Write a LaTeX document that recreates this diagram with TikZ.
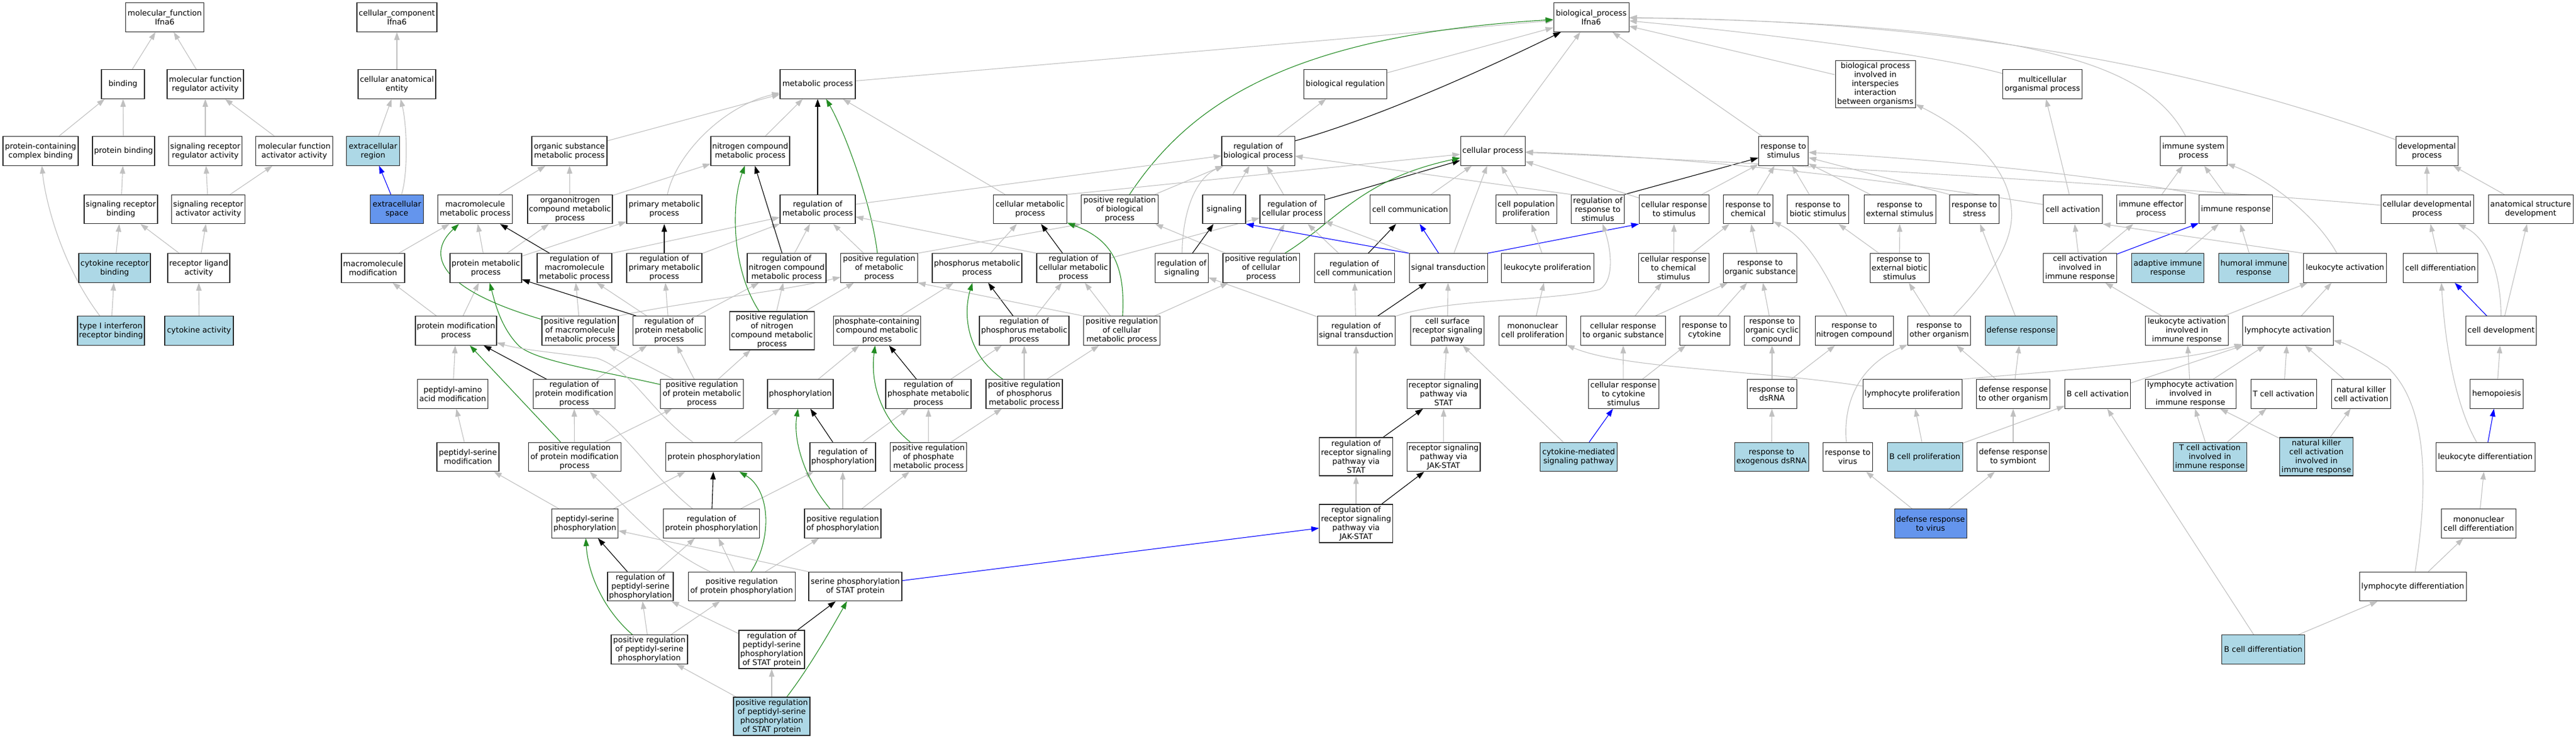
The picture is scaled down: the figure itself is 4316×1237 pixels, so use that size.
\documentclass[tikz,border=0pt]{standalone}
\usepackage{fontspec}
\setmainfont{DejaVu Sans}
\usetikzlibrary{arrows.meta}
\definecolor{eg}{RGB}{192,192,192}
\definecolor{fgreen}{RGB}{34,139,34}
\definecolor{lbl}{RGB}{173,216,230}
\definecolor{cfb}{RGB}{100,149,237}
\definecolor{bordc}{RGB}{40,40,40}
\pgfdeclarelayer{bg}
\pgfsetlayers{bg,main}
\tikzset{
 gonode/.style={draw=bordc, line width=1.05pt, fill=white, rectangle, align=center, minimum height=48.5pt, inner sep=1.5pt, font=\fontsize{13}{15}\selectfont},
 lbfill/.style={fill=lbl},
 cbfill/.style={fill=cfb},
 h4/.style={minimum height=64pt},
 h5/.style={minimum height=79pt},
 eisa/.style={draw=eg, line width=1.1pt, -{Triangle[length=13pt,width=9pt]}},
 ereg/.style={draw=black, line width=1.1pt, -{Triangle[length=13pt,width=9pt]}},
 epos/.style={draw=fgreen, line width=1.1pt, -{Triangle[length=13pt,width=9pt]}},
 epart/.style={draw=blue, line width=1.1pt, -{Triangle[length=13pt,width=9pt]}},
}
\begin{document}
\begin{tikzpicture}[x=1pt,y=-1pt]
\useasboundingbox (0,0) rectangle (4316,1237);
% ---------- R1
\node[gonode,minimum width=131pt] (mf) at (276,29) {molecular\_function\\Ifna6};
\node[gonode,minimum width=134pt] (cc) at (665,29) {cellular\_component\\Ifna6};
\node[gonode,minimum width=126pt] (bp) at (2666,29) {biological\_process\\Ifna6};
% ---------- R2
\node[gonode,minimum width=72pt] (bind) at (206,141) {binding};
\node[gonode,minimum width=128pt] (mfra) at (344,141) {molecular function\\regulator activity};
\node[gonode,minimum width=130pt] (cae) at (665,141) {cellular anatomical\\entity};
\node[gonode,minimum width=126pt] (mp) at (1370,141) {metabolic process};
\node[gonode,minimum width=139pt] (breg) at (2254,141) {biological regulation};
\node[gonode,h5,minimum width=134pt] (bpii) at (3142,141) {biological process\\involved in\\interspecies\\interaction\\between organisms};
\node[gonode,minimum width=133pt] (mop) at (3422,141) {multicellular\\organismal process};
% ---------- R3
\node[gonode,minimum width=126pt] (pcb) at (68,253) {protein-containing\\complex binding};
\node[gonode,minimum width=104pt] (pb) at (207,253) {protein binding};
\node[gonode,minimum width=123pt] (srra) at (344,253) {signaling receptor\\regulator activity};
\node[gonode,minimum width=129pt] (mfaa) at (493,253) {molecular function\\activator activity};
\node[gonode,lbfill,minimum width=89pt] (er) at (625,253) {extracellular\\region};
\node[gonode,minimum width=126pt] (osmp) at (954,253) {organic substance\\metabolic process};
\node[gonode,minimum width=132pt] (ncmp) at (1257,253) {nitrogen compound\\metabolic process};
\node[gonode,minimum width=122pt] (rbp) at (2108,253) {regulation of\\biological process};
\node[gonode,minimum width=108pt] (cp) at (2501,253) {cellular process};
\node[gonode,minimum width=83pt] (rts) at (2988,253) {response to\\stimulus};
\node[gonode,minimum width=112pt] (isp) at (3675,253) {immune system\\process};
\node[gonode,minimum width=104pt] (dp) at (4066,253) {developmental\\process};
% ---------- R4
\node[gonode,minimum width=123pt] (srb) at (202.5,350.5) {signaling receptor\\binding};
\node[gonode,minimum width=123pt] (sraa) at (349,350.5) {signaling receptor\\activator activity};
\node[gonode,cbfill,minimum width=89pt] (es) at (665,350.5) {extracellular\\space};
\node[gonode,minimum width=125pt] (mmp) at (796,350.5) {macromolecule\\metabolic process};
\node[gonode,minimum width=142pt] (oncmp) at (955,350.5) {organonitrogen\\compound metabolic\\process};
\node[gonode,minimum width=126pt] (pmp) at (1113,350.5) {primary metabolic\\process};
\node[gonode,minimum width=126pt] (rmp) at (1370,350.5) {regulation of\\metabolic process};
\node[gonode,minimum width=123pt] (cmp) at (1726,350.5) {cellular metabolic\\process};
\node[gonode,minimum width=128.5pt] (prbp) at (1876,350.5) {positive regulation\\of biological\\process};
\node[gonode,minimum width=72pt] (sig) at (2051,350.5) {signaling};
\node[gonode,minimum width=108pt] (rcp) at (2165,350.5) {regulation of\\cellular process};
\node[gonode,minimum width=134pt] (ccom) at (2362.5,350.5) {cell communication};
\node[gonode,minimum width=102pt] (cpp) at (2557,350.5) {cell population\\proliferation};
\node[gonode,minimum width=89pt] (rrs) at (2677,350.5) {regulation of\\response to\\stimulus};
\node[gonode,minimum width=117pt] (crs) at (2805,350.5) {cellular response\\to stimulus};
\node[gonode,minimum width=83pt] (rtc) at (2929,350.5) {response to\\chemical};
\node[gonode,minimum width=102.5pt] (rbs) at (3046,350.5) {response to\\biotic stimulus};
\node[gonode,minimum width=120pt] (res) at (3183,350.5) {response to\\external stimulus};
\node[gonode,minimum width=83pt] (rst) at (3308,350.5) {response to\\stress};
\node[gonode,minimum width=99pt] (cact) at (3473,350.5) {cell activation};
\node[gonode,minimum width=114.5pt] (iep) at (3604,350.5) {immune effector\\process};
\node[gonode,minimum width=123pt] (ir) at (3746,350.5) {immune response};
\node[gonode,minimum width=155pt] (cdp) at (4066.5,350.5) {cellular developmental\\process};
\node[gonode,minimum width=142pt] (asd) at (4240,350.5) {anatomical structure\\development};
% ---------- R5
\node[gonode,lbfill,minimum width=120pt] (crb) at (192,449) {cytokine receptor\\binding};
\node[gonode,minimum width=104pt] (rla) at (333,449) {receptor ligand\\activity};
\node[gonode,minimum width=106pt] (mm) at (625,449) {macromolecule\\modification};
\node[gonode,minimum width=120pt] (prmp) at (814,449) {protein metabolic\\process};
\node[gonode,minimum width=125pt] (rmmp) at (962.5,449) {regulation of\\macromolecule\\metabolic process};
\node[gonode,minimum width=126pt] (rpmp) at (1113,449) {regulation of\\primary metabolic\\process};
\node[gonode,minimum width=132pt] (rncmp) at (1318,449) {regulation of\\nitrogen compound\\metabolic process};
\node[gonode,minimum width=128.5pt] (prmp2) at (1473,449) {positive regulation\\of metabolic\\process};
\node[gonode,minimum width=150pt] (phmp) at (1637,449) {phosphorus metabolic\\process};
\node[gonode,minimum width=123pt] (rcmp) at (1798.5,449) {regulation of\\cellular metabolic\\process};
\node[gonode,minimum width=88.5pt] (rsig) at (1980,449) {regulation of\\signaling};
\node[gonode,minimum width=128pt] (prcp) at (2113,449) {positive regulation\\of cellular\\process};
\node[gonode,minimum width=134pt] (rcc) at (2269,449) {regulation of\\cell communication};
\node[gonode,minimum width=131pt] (st) at (2426.5,449) {signal transduction};
\node[gonode,minimum width=155pt] (lp) at (2592.6,449) {leukocyte proliferation};
\node[gonode,minimum width=118pt] (crcs) at (2804,449) {cellular response\\to chemical\\stimulus};
\node[gonode,minimum width=123pt] (ros) at (2949,449) {response to\\organic substance};
\node[gonode,minimum width=99pt] (rebs) at (3182.5,449) {response to\\external biotic\\stimulus};
\node[gonode,minimum width=123pt] (caiir) at (3485,449) {cell activation\\involved in\\immune response};
\node[gonode,lbfill,minimum width=120.5pt] (air) at (3632,449) {adaptive immune\\response};
\node[gonode,lbfill,minimum width=117.5pt] (hir) at (3776,449) {humoral immune\\response};
\node[gonode,minimum width=139pt] (la) at (3929,449) {leukocyte activation};
\node[gonode,minimum width=125pt] (cdiff) at (4089,449) {cell differentiation};
% ---------- R6
\node[gonode,lbfill,minimum width=112pt] (t1irb) at (186,554) {type I interferon\\receptor binding};
\node[gonode,lbfill,minimum width=115pt] (ca) at (333.5,554) {cytokine activity};
\node[gonode,minimum width=136pt] (pmod) at (764,554) {protein modification\\process};
\node[gonode,minimum width=128pt] (prmmp) at (972,554) {positive regulation\\of macromolecule\\metabolic process};
\node[gonode,minimum width=121pt] (rprmp) at (1121,554) {regulation of\\protein metabolic\\process};
\node[gonode,h4,minimum width=142pt] (prncmp) at (1293.5,554) {positive regulation\\of nitrogen\\compound metabolic\\process};
\node[gonode,minimum width=146pt] (pccmp) at (1469.5,554) {phosphate-containing\\compound metabolic\\process};
\node[gonode,minimum width=150pt] (rphmp) at (1716,554) {regulation of\\phosphorus metabolic\\process};
\node[gonode,minimum width=128.5pt] (prcmp) at (1879.5,554) {positive regulation\\of cellular\\metabolic process};
\node[gonode,minimum width=130pt] (rst2) at (2272,554) {regulation of\\signal transduction};
\node[gonode,minimum width=123pt] (csrsp) at (2425,554) {cell surface\\receptor signaling\\pathway};
\node[gonode,minimum width=113pt] (mcp) at (2568,554) {mononuclear\\cell proliferation};
\node[gonode,minimum width=141.5pt] (cros) at (2719.5,554) {cellular response\\to organic substance};
\node[gonode,minimum width=84pt] (rcyt) at (2856,554) {response to\\cytokine};
\node[gonode,minimum width=93pt] (rocc) at (2969,554) {response to\\organic cyclic\\compound};
\node[gonode,minimum width=131pt] (rnc) at (3106.6,554) {response to\\nitrogen compound};
\node[gonode,minimum width=105pt] (roo) at (3249,554) {response to\\other organism};
\node[gonode,lbfill,minimum width=120pt] (dr) at (3386,554) {defense response};
\node[gonode,minimum width=139pt] (laiir) at (3664,554) {leukocyte activation\\involved in\\immune response};
\node[gonode,minimum width=152pt] (lyma) at (3833,554) {lymphocyte activation};
\node[gonode,minimum width=118pt] (cdev) at (4190.5,554) {cell development};
% ---------- R7
\node[gonode,minimum width=118pt] (paam) at (758.5,660) {peptidyl-amino\\acid modification};
\node[gonode,minimum width=137pt] (rpmod) at (962,660) {regulation of\\protein modification\\process};
\node[gonode,minimum width=139pt] (pprmp) at (1176,660) {positive regulation\\of protein metabolic\\process};
\node[gonode,minimum width=110pt] (phos) at (1341,660) {phosphorylation};
\node[gonode,minimum width=143pt] (rphm) at (1555.5,660) {regulation of\\phosphate metabolic\\process};
\node[gonode,minimum width=128pt] (pphmp) at (1716,660) {positive regulation\\of phosphorus\\metabolic process};
\node[gonode,minimum width=122.5pt] (rspstat) at (2418.7,660) {receptor signaling\\pathway via\\STAT};
\node[gonode,minimum width=118pt] (crcys) at (2720,660) {cellular response\\to cytokine\\stimulus};
\node[gonode,minimum width=83pt] (rds) at (2969,660) {response to\\dsRNA};
\node[gonode,minimum width=166pt] (lyp) at (3204,660) {lymphocyte proliferation};
\node[gonode,minimum width=123pt] (droo) at (3373,660) {defense response\\to other organism};
\node[gonode,minimum width=110pt] (bca) at (3514.6,660) {B cell activation};
\node[gonode,minimum width=152pt] (lyaiir) at (3670,660) {lymphocyte activation\\involved in\\immune response};
\node[gonode,minimum width=110pt] (tca) at (3826,660) {T cell activation};
\node[gonode,minimum width=99pt] (nkca) at (3956,660) {natural killer\\cell activation};
\node[gonode,minimum width=89pt] (hemo) at (4183,660) {hemopoiesis};
% ---------- R8
\node[gonode,minimum width=104pt] (psm) at (784,765.5) {peptidyl-serine\\modification};
\node[gonode,minimum width=155pt] (pprmod) at (962.6,765.5) {positive regulation\\of protein modification\\process};
\node[gonode,minimum width=161pt] (pphos) at (1196,765.5) {protein phosphorylation};
\node[gonode,minimum width=110pt] (rphos) at (1412,765.5) {regulation of\\phosphorylation};
\node[gonode,minimum width=128pt] (pphm) at (1555.7,765.5) {positive regulation\\of phosphate\\metabolic process};
\node[gonode,h4,minimum width=123pt] (rrspstat) at (2272,765) {regulation of\\receptor signaling\\pathway via\\STAT};
\node[gonode,minimum width=122.5pt] (rspjak) at (2418.7,765.5) {receptor signaling\\pathway via\\JAK-STAT};
\node[gonode,lbfill,minimum width=129pt] (cmsp) at (2645,765.5) {cytokine-mediated\\signaling pathway};
\node[gonode,lbfill,minimum width=124pt] (redsrna) at (2968,765.5) {response to\\exogenous dsRNA};
\node[gonode,minimum width=83pt] (rv) at (3095.7,765.5) {response to\\virus};
\node[gonode,lbfill,minimum width=126pt] (bcp) at (3225,765.5) {B cell proliferation};
\node[gonode,minimum width=121pt] (drs) at (3373,765.5) {defense response\\to symbiont};
\node[gonode,lbfill,minimum width=123pt] (tcaiir) at (3702.6,765.5) {T cell activation\\involved in\\immune response};
\node[gonode,lbfill,h4,minimum width=123pt] (nkaiir) at (3881,765) {natural killer\\cell activation\\involved in\\immune response};
\node[gonode,minimum width=166pt] (ldiff) at (4164,765.5) {leukocyte differentiation};
% ---------- R9
\node[gonode,minimum width=111pt] (psp) at (980,877) {peptidyl-serine\\phosphorylation};
\node[gonode,minimum width=161pt] (rpp) at (1192,877) {regulation of\\protein phosphorylation};
\node[gonode,minimum width=128pt] (prphos) at (1412,877) {positive regulation\\of phosphorylation};
\node[gonode,h4,minimum width=123pt] (rrsjak) at (2272,877) {regulation of\\receptor signaling\\pathway via\\JAK-STAT};
\node[gonode,cbfill,minimum width=121pt] (drv) at (3234.5,877) {defense response\\to virus};
\node[gonode,minimum width=125.5pt] (mcd) at (4153,877) {mononuclear\\cell differentiation};
% ---------- R10
\node[gonode,minimum width=110pt] (rpsp) at (1073,982.5) {regulation of\\peptidyl-serine\\phosphorylation};
\node[gonode,minimum width=179pt] (pprpp) at (1242.6,982.5) {positive regulation\\of protein phosphorylation};
\node[gonode,minimum width=156pt] (spstat) at (1433,982.5) {serine phosphorylation\\of STAT protein};
\node[gonode,minimum width=179pt] (lydiff) at (4042.5,982.5) {lymphocyte differentiation};
% ---------- R11
\node[gonode,minimum width=128pt] (prpsp) at (1088,1088) {positive regulation\\of peptidyl-serine\\phosphorylation};
\node[gonode,h4,minimum width=110pt] (rpspstat) at (1293,1088) {regulation of\\peptidyl-serine\\phosphorylation\\of STAT protein};
\node[gonode,lbfill,minimum width=139pt] (bcd) at (3792,1088) {B cell differentiation};
% ---------- R12
\node[gonode,lbfill,h4,minimum width=128pt] (prpspstat) at (1293,1200) {positive regulation\\of peptidyl-serine\\phosphorylation\\of STAT protein};

\begin{pgfonlayer}{bg}
% MF
\draw[eisa] (bind) -- (mf);
\draw[eisa] (mfra) -- (mf);
\draw[eisa] (pcb) -- (bind);
\draw[eisa] (pb) -- (bind);
\draw[eisa] (srra) -- (mfra);
\draw[eisa] (mfaa) -- (mfra);
\draw[eisa] (srb) -- (pb);
\draw[eisa] (sraa) -- (srra);
\draw[eisa] (sraa) -- (mfaa);
\draw[eisa] (crb) -- (srb);
\draw[eisa] (rla) -- (srb);
\draw[eisa] (rla) -- (sraa);
\draw[eisa] (t1irb) -- (crb);
\draw[eisa] (t1irb) .. controls (100,440) and (75,330) .. (pcb);
\draw[eisa] (ca) -- (rla);
% CC
\draw[eisa] (cae) -- (cc);
\draw[eisa] (er) -- (cae);
\draw[eisa] (es) .. controls (684,290) and (682,210) .. (cae);
\draw[epart] (es) -- (er);
% top BP
\draw[eisa] (mp) -- (bp);
\draw[eisa] (breg) -- (bp);
\draw[ereg] (rbp) .. controls (2300,200) and (2480,120) .. (bp);
\draw[epos] (prbp) .. controls (1990,180) and (2150,60) .. (bp);
\draw[eisa] (cp) -- (bp);
\draw[eisa] (rts) -- (bp);
\draw[eisa] (bpii) -- (bp);
\draw[eisa] (mop) .. controls (3250,95) and (3000,60) .. (bp);
\draw[eisa] (isp) .. controls (3600,110) and (3420,40) .. (bp);
\draw[eisa] (dp) .. controls (3700,120) and (3300,35) .. (bp);
% metabolic
\draw[eisa] (osmp) -- (mp);
\draw[eisa] (ncmp) -- (mp);
\draw[eisa] (pmp) .. controls (1132,260) and (1210,178) .. (mp);
\draw[ereg] (rmp) -- (mp);
\draw[epos] (prmp2) .. controls (1460,340) and (1415,220) .. (mp);
\draw[eisa] (cmp) -- (mp);
\draw[eisa] (mmp) -- (osmp);
\draw[eisa] (oncmp) -- (osmp);
\draw[eisa] (oncmp) -- (ncmp);
\draw[eisa] (rmp) -- (rbp);
\draw[eisa] (prbp) -- (rbp);
\draw[eisa] (rsig) .. controls (1982,340) and (2010,295) .. (rbp);
\draw[eisa] (sig) -- (rbp);
\draw[eisa] (rcp) -- (rbp);
\draw[eisa] (rbp) -- (breg);
\draw[ereg] (rcp) -- (cp);
\draw[eisa] (cmp.north east) -- (cp);
\draw[eisa] (prcp) -- (rcp);
\draw[eisa] (prcp) -- (prbp);
\draw[epos] (prcp) .. controls (2240,370) and (2280,300) .. (cp);
\draw[eisa] (rcc) -- (rcp);
\draw[ereg] (rcc) -- (ccom);
\draw[epart] (st) -- (ccom);
\draw[eisa] (st) -- (cp);
\draw[eisa] (st) -- (rcp);
\draw[epart] (st.north west) -- (sig.south east);
\draw[epart] (st.north east) -- (crs.south west);
\draw[eisa] (cpp) -- (cp);
\draw[eisa] (ccom) -- (cp);
\draw[eisa] (rrs.north west) -- (rbp);
\draw[ereg] (rrs.north east) -- (rts);
\draw[eisa] (crs) -- (cp);
\draw[eisa] (crs) -- (rts);
\draw[eisa] (rtc) -- (rts);
\draw[eisa] (rbs) -- (rts);
\draw[eisa] (res) -- (rts);
\draw[eisa] (rst.north west) -- (rts);
\draw[eisa] (ir.north west) .. controls (3550,300) and (3300,270) .. (rts);
\draw[eisa] (cact) .. controls (3250,315) and (2900,265) .. (cp);
\draw[eisa] (cdp) .. controls (3600,310) and (2900,270) .. (cp);
% immune / development
\draw[eisa] (iep) -- (isp);
\draw[eisa] (ir) -- (isp);
\draw[eisa] (la) .. controls (3880,360) and (3800,300) .. (isp);
\draw[eisa] (cact) -- (mop);
\draw[eisa] (cdp) -- (dp);
\draw[eisa] (asd) -- (dp);
% R5 sources
\draw[eisa] (mm) -- (mmp);
\draw[eisa] (prmp) -- (mmp);
\draw[eisa] (prmp) -- (oncmp);
\draw[eisa] (prmp) -- (pmp);
\draw[ereg] (rmmp) -- (mmp);
\draw[eisa] (rmmp.north east) -- (rmp);
\draw[ereg] (rpmp) -- (pmp);
\draw[eisa] (rpmp) -- (rmp);
\draw[ereg] (rncmp) -- (ncmp);
\draw[eisa] (rncmp) -- (rmp);
\draw[eisa] (prmp2) -- (rmp);
\draw[eisa] (prmp2.north east) -- (prbp.south west);
\draw[eisa] (phmp) -- (cmp);
\draw[ereg] (rcmp) -- (cmp);
\draw[eisa] (rcmp.north west) -- (rmp);
\draw[eisa] (rcmp) -- (rcp);
\draw[ereg] (rsig) -- (sig);
% R6 sources
\draw[eisa] (pmod) -- (mm);
\draw[eisa] (pmod) -- (prmp);
\draw[eisa] (prmmp) -- (rmmp);
\draw[epos] (prmmp) .. controls (720,480) and (720,420) .. (mmp);
\draw[eisa] (prmmp.north east) .. controls (1150,505) and (1300,490) .. (prmp2);
\draw[ereg] ([xshift=6pt]rprmp.north west) -- (prmp);
\draw[eisa] (rprmp) -- (rmmp);
\draw[eisa] (rprmp) -- (rpmp);
\draw[eisa] (rprmp) -- (rncmp);
\draw[epos] (prncmp) .. controls (1225,450) and (1225,340) .. (ncmp);
\draw[eisa] (prncmp) -- (rncmp);
\draw[eisa] (prncmp) -- (prmp2);
\draw[eisa] (pccmp) -- (phmp);
\draw[ereg] (rphmp) -- (phmp);
\draw[eisa] (rphmp) -- (rcmp);
\draw[eisa] (prcmp) -- (rcmp);
\draw[eisa] (prcmp.north west) -- (prmp2.south east);
\draw[eisa] (prcmp) -- (prcp);
\draw[epos] (prcmp) .. controls (1886,440) and (1860,400) .. (cmp);
\draw[ereg] (rst2) -- (st);
\draw[eisa] (rst2) -- (rcc);
\draw[eisa] (rst2) -- (rsig);
\draw[eisa] (rst2) .. controls (2420,500) and (2600,505) .. (2680,485) .. controls (2705,470) and (2700,420) .. (rrs);
\draw[eisa] (csrsp) -- (st);
\draw[eisa] (mcp) -- (lp);
\draw[eisa] (lp) -- (cpp);
\draw[eisa] (crcs) -- (crs);
\draw[eisa] (crcs) -- (rtc);
\draw[eisa] (cros) -- (crcs);
\draw[eisa] (cros) -- (ros);
\draw[eisa] (rcyt) -- (ros);
\draw[eisa] (rocc) -- (ros);
\draw[eisa] (ros) -- (rtc);
\draw[eisa] (rnc) .. controls (3060,460) and (3030,400) .. (rtc);
\draw[eisa] (rebs) -- (rbs);
\draw[eisa] (rebs) -- (res);
\draw[eisa] (roo) -- (rebs);
\draw[eisa] (roo) .. controls (3340,460) and (3375,400) .. (3370,350) .. controls (3365,280) and (3300,220) .. (bpii);
\draw[eisa] (dr) -- (rst);
\draw[eisa] (caiir) -- (cact);
\draw[eisa] (caiir) -- (iep);
\draw[epart] (caiir) -- (ir);
\draw[eisa] (air) -- (ir);
\draw[eisa] (hir) -- (ir);
\draw[eisa] (la.north west) -- (cact.south east);
\draw[eisa] (cdiff) -- (cdp);
\draw[eisa] (lyma) -- (la);
\draw[eisa] (laiir) -- (caiir);
\draw[eisa] (laiir) -- (la);
\draw[epart] (cdev) -- (cdiff);
\draw[eisa] (cdev) .. controls (4190,460) and (4170,400) .. (cdp);
\draw[eisa] (cdev) -- (asd);
% R7 sources
\draw[eisa] (paam) -- (pmod);
\draw[ereg] (rpmod) -- (pmod);
\draw[eisa] (rpmod) -- (rprmp);
\draw[epos] (pprmp) .. controls (1000,620) and (900,605) .. (870,580) .. controls (840,550) and (830,510) .. (prmp);
\draw[eisa] (pprmp) -- (prmmp);
\draw[eisa] (pprmp) -- (rprmp);
\draw[eisa] (pprmp) -- (prncmp);
\draw[eisa] (phos) -- (pccmp);
\draw[ereg] (rphm) -- (pccmp);
\draw[eisa] (rphm) -- (rphmp);
\draw[epos] (pphmp) .. controls (1615,590) and (1615,520) .. (phmp);
\draw[eisa] (pphmp) -- (rphmp);
\draw[eisa] (pphmp) -- (prcmp);
\draw[eisa] (rspstat) -- (csrsp);
\draw[eisa] (crcys) -- (cros);
\draw[eisa] (crcys) -- (rcyt);
\draw[eisa] (rds) -- (rocc);
\draw[eisa] (rds) -- (rnc);
\draw[eisa] (lyp) .. controls (2950,620) and (2720,618) .. (mcp);
\draw[eisa] (lyp.north east) .. controls (3400,625) and (3650,608) .. (lyma);
\draw[eisa] (droo) -- (roo);
\draw[eisa] (droo) -- (dr);
\draw[eisa] (bca) -- (lyma);
\draw[eisa] (lyaiir) -- (laiir);
\draw[eisa] (lyaiir) -- (lyma);
\draw[eisa] (tca) -- (lyma);
\draw[eisa] (nkca) -- (lyma);
\draw[eisa] (hemo) -- (cdev);
% R8 sources
\draw[eisa] (psm) -- (paam);
\draw[eisa] (pprmod) -- (rpmod);
\draw[eisa] (pprmod) -- (pprmp);
\draw[epos] (pprmod) -- (pmod);
\draw[eisa] (pphos) -- (phos);
\draw[eisa] (pphos) .. controls (1090,690) and (1060,620) .. (1000,600) .. controls (920,590) and (870,585) .. (pmod);
\draw[ereg] (rphos) -- (phos);
\draw[eisa] (rphos) -- (rphm);
\draw[eisa] (pphm) -- (rphm);
\draw[eisa] (pphm) -- (pphmp);
\draw[epos] (pphm) .. controls (1475,700) and (1458,640) .. (pccmp);
\draw[ereg] (rrspstat) -- (rspstat);
\draw[eisa] (rrspstat) -- (rst2);
\draw[eisa] (rspjak) -- (rspstat);
\draw[eisa] (cmsp) -- (csrsp);
\draw[epart] (cmsp) -- (crcys);
\draw[eisa] (redsrna) -- (rds);
\draw[eisa] (rv) .. controls (3088,680) and (3110,615) .. (roo);
\draw[eisa] (bcp) -- (lyp);
\draw[eisa] (bcp) -- (bca);
\draw[eisa] (drs) -- (droo);
\draw[eisa] (tcaiir) -- (lyaiir);
\draw[eisa] (tcaiir) -- (tca);
\draw[eisa] (nkaiir) -- (lyaiir);
\draw[eisa] (nkaiir) -- (nkca);
\draw[epart] (ldiff) -- (hemo);
\draw[eisa] (ldiff) .. controls (4120,690) and (4098,600) .. (cdiff);
\draw[eisa] (mcd) -- (ldiff);
\draw[eisa] (lydiff) -- (mcd);
\draw[eisa] (bcd) -- (lydiff);
\draw[eisa] (bcd) -- (bca);
\draw[eisa] (lydiff) .. controls (4068,820) and (4070,680) .. (4000,615) .. controls (3960,590) and (3930,575) .. (lyma);
% R9 sources
\draw[eisa] (psp) -- (psm);
\draw[eisa] (psp) -- (pphos);
\draw[ereg] (rpp) -- (pphos);
\draw[eisa] (rpp) .. controls (1100,805) and (1060,740) .. (rpmod);
\draw[eisa] (rpp) -- (rphos);
\draw[eisa] (prphos) -- (rphos);
\draw[eisa] (prphos) -- (pphm);
\draw[epos] (prphos) .. controls (1350,805) and (1328,740) .. (phos);
\draw[ereg] (rrsjak) -- (rspjak);
\draw[eisa] (rrsjak) -- (rrspstat);
\draw[eisa] (drv) -- (rv);
\draw[eisa] (drv) -- (drs);
% R10 sources
\draw[ereg] (rpsp) -- (psp);
\draw[eisa] (rpsp) -- (rpp);
\draw[eisa] (pprpp) -- (rpp);
\draw[eisa] (pprpp) -- (prphos);
\draw[epos] (pprpp) .. controls (1295,900) and (1290,820) .. (pphos);
\draw[eisa] (pprpp) .. controls (1110,920) and (1060,860) .. (pprmod);
\draw[eisa] (spstat.north west) -- (psp);
\draw[epart] (spstat) -- (rrsjak);
% R11 sources
\draw[eisa] (prpsp) -- (rpsp);
\draw[eisa] (prpsp) -- (pprpp);
\draw[epos] (prpsp) .. controls (1010,1020) and (985,960) .. (psp);
\draw[eisa] (rpspstat) -- (rpsp);
\draw[ereg] (rpspstat) -- (spstat);
% R12 sources
\draw[eisa] (prpspstat) -- (rpspstat);
\draw[eisa] (prpspstat) -- (prpsp);
\draw[epos] (prpspstat) .. controls (1355,1120) and (1395,1050) .. (spstat);
\end{pgfonlayer}
\end{tikzpicture}
\end{document}
